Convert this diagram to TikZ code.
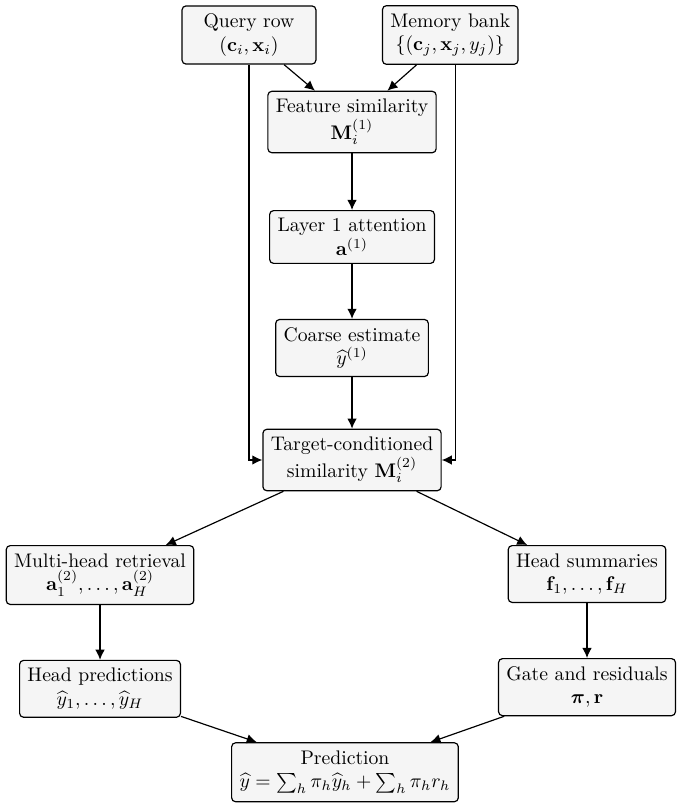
\documentclass[tikz,border=0pt]{standalone}
\usepackage{amsmath,amssymb,bm}
\usetikzlibrary{arrows.meta}
\tikzset{
  box/.style={draw,rounded corners=2pt,fill=gray!8,align=center,inner sep=4pt},
}
\begin{document}
\begin{tikzpicture}[>={Latex[length=1.8mm,width=1.7mm]},semithick]
  \useasboundingbox (0,0) rectangle (12.196,-14.446);
  \node[box,minimum width=2.39cm] (query) at (4.446,-0.625) {Query row\\$(\mathbf{c}_i,\mathbf{x}_i)$};
  \node[box] (mem) at (8.04,-0.625) {Memory bank\\$\{(\mathbf{c}_j,\mathbf{x}_j,y_j)\}$};
  \node[box] (featsim) at (6.286,-2.179) {Feature similarity\\$\mathbf{M}_i^{(1)}$};
  \node[box] (att1) at (6.286,-4.232) {Layer 1 attention\\$\mathbf{a}^{(1)}$};
  \node[box] (coarse) at (6.286,-6.214) {Coarse estimate\\$\widehat{y}^{(1)}$};
  \node[box] (tcsim) at (6.286,-8.214) {Target-conditioned\\similarity $\mathbf{M}_i^{(2)}$};
  \node[box] (multi) at (1.786,-10.268) {Multi-head retrieval\\$\mathbf{a}_1^{(2)},\dots,\mathbf{a}_H^{(2)}$};
  \node[box] (summ) at (10.482,-10.25) {Head summaries\\$\mathbf{f}_1,\dots,\mathbf{f}_H$};
  \node[box] (headpred) at (1.786,-12.30) {Head predictions\\$\widehat{y}_1,\dots,\widehat{y}_H$};
  \node[box] (gate) at (10.482,-12.27) {Gate and residuals\\$\bm{\pi},\mathbf{r}$};
  \node[box] (pred) at (6.16,-13.79) {Prediction\\$\widehat{y}=\sum_h\pi_h\widehat{y}_h+\sum_h\pi_h r_h$};
  % upper chain
  \draw[->] (query)--(featsim);
  \draw[->] (mem)--(featsim);
  \draw[->] (featsim)--(att1);
  \draw[->] (att1)--(coarse);
  \draw[->] (coarse)--(tcsim);
  \draw[->] (query.south)|-(tcsim.west);
  \draw[->] ([xshift=1mm]mem.south)|-(tcsim.east);
  % heads
  \draw[->] (tcsim)--(multi);
  \draw[->] (tcsim)--(summ);
  \draw[->] (multi)--(headpred);
  \draw[->] (summ)--(gate);
  \draw[->] (headpred)--(pred);
  \draw[->] (gate)--(pred);
\end{tikzpicture}
\end{document}
